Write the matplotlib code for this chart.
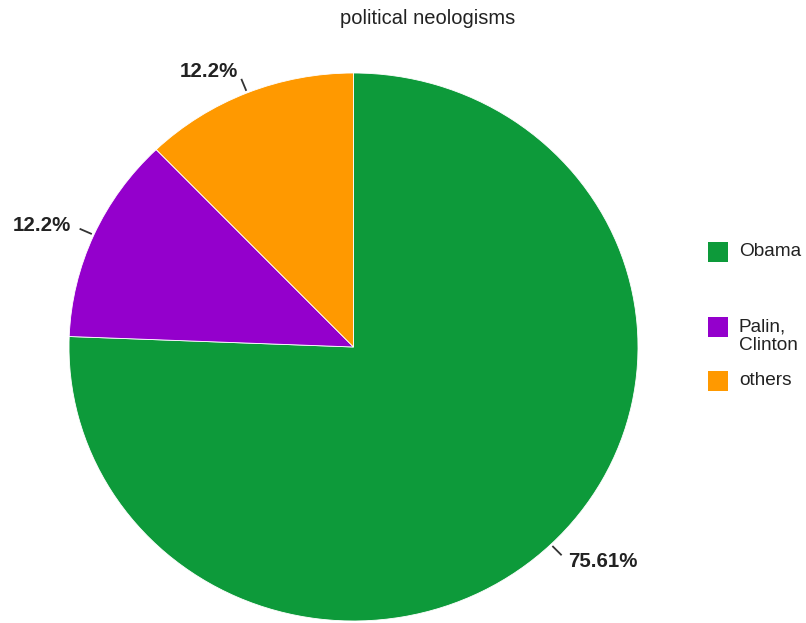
import matplotlib.pyplot as plt
import numpy as np
from matplotlib.patches import Rectangle

plt.rcParams["font.family"] = ["Liberation Sans", "DejaVu Sans"]

# share of political neologisms by source
labels = ["Obama", "Palin,\nClinton", "others"]
counts = [31, 5, 5]
colors = ["#0d9a3a", "#9400cc", "#ff9900"]

W, H = 806, 623
fig = plt.figure(figsize=(W / 100, H / 100), dpi=100)

# pie axes: slightly wider than tall, as in the original export
left, right, top, bottom = 69, 638, 73, 621
ax = fig.add_axes([left / W, (H - bottom) / H, (right - left) / W, (bottom - top) / H])

wedges, _ = ax.pie(
    counts,
    colors=colors,
    startangle=90,
    counterclock=False,
    radius=1.0,
    wedgeprops=dict(edgecolor="white", linewidth=0.6),
)
ax.set_aspect("auto")
ax.set_xlim(-1, 1)
ax.set_ylim(-1, 1)
ax.axis("off")

total = sum(counts)
for w, c in zip(wedges, counts):
    pct = 100 * c / total
    txt = f"{pct:.2f}".rstrip("0").rstrip(".") + "%"
    mid = np.deg2rad((w.theta1 + w.theta2) / 2)
    cx, cy = np.cos(mid), np.sin(mid)
    ax.plot([1.008 * cx, 1.055 * cx], [1.008 * cy, 1.055 * cy], color="#333333",
            lw=1.3, clip_on=False, solid_capstyle="butt")
    ha = "left" if cx > 0 else "right"
    ax.text(1.09 * cx, 1.085 * cy, txt, ha=ha, va="center",
            fontsize=14.8, fontweight="bold", color="#222222")

fig.text(428 / W, 1 - 18 / H, "political neologisms", ha="center", va="center",
         fontsize=14.5, color="#222222")

# legend on the right
sq = 20
legend_y = [252, 327, 381]
for lab, col, yc in zip(labels, colors, legend_y):
    fig.patches.append(Rectangle((708 / W, (H - yc - sq / 2) / H), sq / W, sq / H,
                                 transform=fig.transFigure, facecolor=col,
                                 edgecolor="none"))
    fig.text(739 / W, (H - yc + 9) / H, lab, ha="left", va="top",
             fontsize=13.7, color="#222222", linespacing=1.15)

fig.savefig("out.png", dpi=100, facecolor="white")
